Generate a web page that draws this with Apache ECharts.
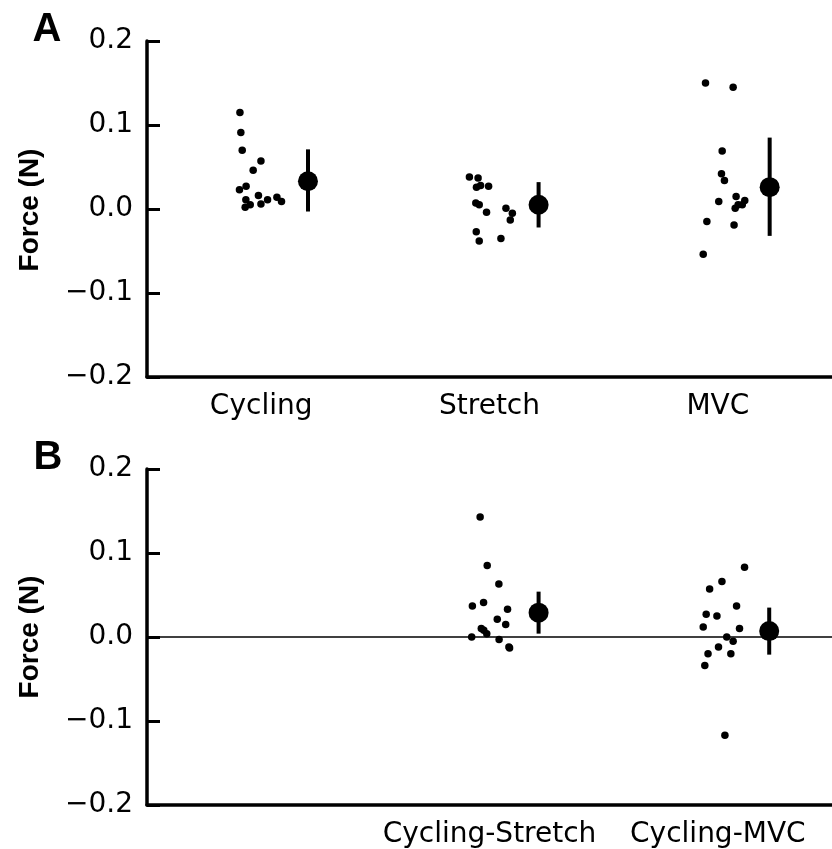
<!DOCTYPE html>
<html>
<head>
<meta charset="utf-8">
<title>Force</title>
<style>
  html, body { margin: 0; padding: 0; background: #fff; }
  #main { width: 832px; height: 849px; }
</style>
</head>
<body>
<div id="main"></div>
<script src="https://cdn.jsdelivr.net/npm/echarts@6/dist/echarts.min.js"></script>
<script>
// category labels
var catA = ['Cycling', 'Stretch', 'MVC'];
var catB = ['Cycling-Stretch', 'Cycling-MVC'];
var catPosA = [1, 2, 3];
var catPosB = [2, 3];

// panel A, single points (x is jittered position)
var cyclingX = [0.907, 0.911, 0.917, 0.999, 0.965, 0.905, 0.934, 0.933, 0.930, 0.952, 0.988, 0.999, 1.028, 1.069, 1.089];
var cyclingY = [0.115, 0.091, 0.070, 0.057, 0.046, 0.023, 0.027, 0.011, 0.002, 0.005, 0.016, 0.006, 0.011, 0.014, 0.009];
var stretchX = [1.912, 1.950, 1.961, 1.943, 1.996, 1.940, 1.955, 1.987, 2.072, 2.100, 2.091, 1.942, 1.955, 2.050];
var stretchY = [0.038, 0.037, 0.028, 0.026, 0.027, 0.007, 0.005, -0.004, 0.001, -0.005, -0.013, -0.027, -0.038, -0.035];
var mvcX = [2.946, 3.067, 3.019, 3.016, 3.029, 3.004, 3.080, 3.118, 3.107, 3.076, 3.089, 2.952, 3.071, 2.936];
var mvcY = [0.150, 0.145, 0.069, 0.042, 0.034, 0.009, 0.015, 0.010, 0.005, 0.001, 0.005, -0.015, -0.019, -0.054];

// panel A, means and error bars
var meanAX = [1.205, 2.215, 3.227];
var meanAY = [0.033, 0.005, 0.026];
var errALow = [-0.003, -0.022, -0.032];
var errAHigh = [0.071, 0.032, 0.085];

// panel B, differences
var diffStretchX = [1.959, 1.990, 2.041, 1.925, 1.974, 2.079, 2.034, 2.071, 1.964, 1.975, 1.988, 1.922, 2.042, 2.085, 2.088];
var diffStretchY = [0.143, 0.085, 0.063, 0.037, 0.041, 0.033, 0.021, 0.015, 0.010, 0.008, 0.004, 0.000, -0.003, -0.012, -0.013];
var diffMvcX = [3.117, 3.018, 2.964, 3.082, 2.949, 2.996, 2.936, 3.095, 3.039, 3.067, 3.003, 2.957, 3.057, 2.943, 3.031];
var diffMvcY = [0.083, 0.066, 0.057, 0.037, 0.027, 0.025, 0.012, 0.010, 0.000, -0.005, -0.012, -0.020, -0.020, -0.034, -0.117];

var meanBX = [2.215, 3.225];
var meanBY = [0.029, 0.007];
var errBLow = [0.004, -0.021];
var errBHigh = [0.054, 0.035];

var FONT = 'DejaVu Sans';
var BOLD = 'bold 28px "Liberation Sans", Arial, sans-serif';
var LETTER = 'bold 40px "Liberation Sans", Arial, sans-serif';

function zip(xs, ys) {
  return xs.map(function (x, i) { return [x, ys[i]]; });
}
function errData(xs, lo, hi) {
  return xs.map(function (x, i) { return [x, lo[i], hi[i]]; });
}
function fmtY(v) {
  var s = Math.abs(v).toFixed(1);
  return v < -1e-9 ? '\u2212' + s : s;
}

function xAxisFor(idx, pos, names) {
  return {
    type: 'value', gridIndex: idx, min: 0.5, max: 3.5,
    axisLine: { show: true, onZero: false, lineStyle: { color: '#000', width: 3.5 } },
    axisTick: { show: false },
    splitLine: { show: false },
    axisLabel: {
      customValues: pos,
      formatter: function (v) { return names[pos.indexOf(v)]; },
      color: '#000', fontFamily: FONT, fontSize: 28, margin: 16
    }
  };
}
function yAxisFor(idx) {
  return {
    type: 'value', gridIndex: idx, min: -0.2, max: 0.2, interval: 0.1,
    axisLine: { show: true, lineStyle: { color: '#000', width: 3.5 } },
    axisTick: { show: true, inside: true, length: 13, lineStyle: { color: '#000', width: 3 } },
    splitLine: { show: false },
    axisLabel: { formatter: fmtY, color: '#000', fontFamily: FONT, fontSize: 28, margin: 14 }
  };
}

function dots(name, data, idx) {
  return {
    name: name, type: 'scatter', xAxisIndex: idx, yAxisIndex: idx,
    data: data, symbolSize: 7.5, itemStyle: { color: '#000', opacity: 1 }, silent: true
  };
}
function errBars(data, idx) {
  return {
    type: 'custom', xAxisIndex: idx, yAxisIndex: idx, data: data, silent: true,
    encode: { x: 0, y: [1, 2] },
    renderItem: function (params, api) {
      var p1 = api.coord([api.value(0), api.value(1)]);
      var p2 = api.coord([api.value(0), api.value(2)]);
      return {
        type: 'line',
        shape: { x1: p1[0], y1: p1[1], x2: p2[0], y2: p2[1] },
        style: { stroke: '#000', lineWidth: 4 }
      };
    }
  };
}
function means(data, idx) {
  return {
    type: 'scatter', xAxisIndex: idx, yAxisIndex: idx, data: data,
    symbolSize: 20, itemStyle: { color: '#000', opacity: 1 }, silent: true, z: 3
  };
}

var chart = echarts.init(document.getElementById('main'));

var zeroLine = dots('zero', [], 1);
zeroLine.markLine = {
  silent: true, symbol: 'none', label: { show: false },
  lineStyle: { color: '#000', width: 1.5, type: 'solid' },
  data: [{ yAxis: 0 }]
};

chart.setOption({
  backgroundColor: '#fff',
  animation: false,
  grid: [
    { left: 147, right: 0, top: 41, height: 336 },
    { left: 147, right: 0, top: 469, height: 336 }
  ],
  xAxis: [xAxisFor(0, catPosA, catA), xAxisFor(1, catPosB, catB)],
  yAxis: [yAxisFor(0), yAxisFor(1)],
  graphic: [
    { type: 'text', x: 47, y: 30, style: { text: 'A', font: LETTER, fill: '#000', align: 'center', verticalAlign: 'middle' } },
    { type: 'text', x: 48, y: 458, style: { text: 'B', font: LETTER, fill: '#000', align: 'center', verticalAlign: 'middle' } },
    { type: 'text', x: 30, y: 210, rotation: Math.PI / 2,
      style: { text: 'Force (N)', font: BOLD, fill: '#000', align: 'center', verticalAlign: 'middle' } },
    { type: 'text', x: 30, y: 637, rotation: Math.PI / 2,
      style: { text: 'Force (N)', font: BOLD, fill: '#000', align: 'center', verticalAlign: 'middle' } }
  ],
  series: [
    dots('Cycling', zip(cyclingX, cyclingY), 0),
    dots('Stretch', zip(stretchX, stretchY), 0),
    dots('MVC', zip(mvcX, mvcY), 0),
    errBars(errData(meanAX, errALow, errAHigh), 0),
    means(zip(meanAX, meanAY), 0),
    zeroLine,
    dots('Cycling-Stretch', zip(diffStretchX, diffStretchY), 1),
    dots('Cycling-MVC', zip(diffMvcX, diffMvcY), 1),
    errBars(errData(meanBX, errBLow, errBHigh), 1),
    means(zip(meanBX, meanBY), 1)
  ]
});
</script>
</body>
</html>
